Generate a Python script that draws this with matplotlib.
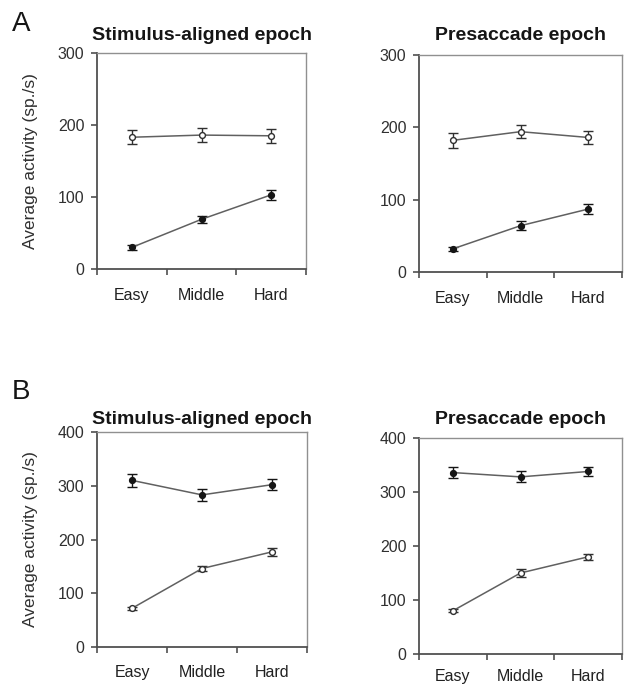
import matplotlib.pyplot as plt
import numpy as np

plt.rcParams['font.family'] = ['Liberation Sans', 'DejaVu Sans']

conditions = ['Easy', 'Middle', 'Hard']

# panel A (0-300)
a_stim_open = [183, 186, 185]
a_stim_open_err = [10, 10, 10]
a_stim_filled = [30, 69, 103]
a_stim_filled_err = [3, 5, 7]

a_pre_open = [182, 194, 186]
a_pre_open_err = [10, 9, 9]
a_pre_filled = [32, 64, 87]
a_pre_filled_err = [3, 6, 7]

# panel B (0-400)
b_stim_open = [72, 146, 177]
b_stim_open_err = [3, 5, 7]
b_stim_filled = [310, 283, 302]
b_stim_filled_err = [12, 11, 10]

b_pre_open = [80, 150, 180]
b_pre_open_err = [3, 7, 5]
b_pre_filled = [336, 328, 338]
b_pre_filled_err = [10, 10, 9]

line_col = '#606060'
axis_col = '#505050'


def draw_panel(ax, open_vals, open_err, filled_vals, filled_err, ymax, title, ylabel, tpad, xpad):
    x = np.arange(len(conditions)) + 0.5
    ax.errorbar(x, open_vals, yerr=open_err, color=line_col, lw=1.1,
                marker='o', ms=4.2, mfc='white', mec='#303030', mew=1.0,
                ecolor='#303030', elinewidth=1.0, capsize=3.5, capthick=1.0)
    ax.errorbar(x, filled_vals, yerr=filled_err, color=line_col, lw=1.1,
                marker='o', ms=4.2, mfc='#151515', mec='#151515',
                ecolor='#151515', elinewidth=1.0, capsize=3.5, capthick=1.0)
    ax.set_xlim(0, 3)
    ax.set_ylim(0, ymax)
    ax.set_yticks(np.arange(0, ymax + 1, 100))
    ax.set_xticks([0, 1, 2, 3])
    ax.set_xticklabels([])
    ax.set_xticks(x, minor=True)
    ax.set_xticklabels(conditions, minor=True)
    ax.tick_params(axis='x', which='minor', length=0, pad=xpad, labelsize=11.5, colors='#202020')
    ax.tick_params(axis='x', which='major', length=4, width=1.2, color=axis_col)
    ax.tick_params(axis='y', length=4, width=1.2, color=axis_col, labelsize=11.5,
                   labelcolor='#303030', pad=5)
    for side in ['left', 'bottom']:
        ax.spines[side].set_color(axis_col)
        ax.spines[side].set_linewidth(1.3)
    for side in ['top', 'right']:
        ax.spines[side].set_color('#909090')
        ax.spines[side].set_linewidth(1.0)
    ax.set_title(title, fontsize=14, fontweight='bold', pad=tpad, color='#151515')
    if ylabel:
        ax.set_ylabel('Average activity (sp./s)', fontsize=12.5, color='#303030', labelpad=14)


fig = plt.figure(figsize=(6.24, 6.87), dpi=100)
W, H = 624, 687


def add_ax(left, top, right, bottom):
    return fig.add_axes([left / W, 1 - bottom / H, (right - left) / W, (bottom - top) / H])


ax1 = add_ax(97, 53, 306, 269)
ax2 = add_ax(419, 55, 622, 272)
ax3 = add_ax(97, 432, 307, 647)
ax4 = add_ax(419, 438, 622, 654)

draw_panel(ax1, a_stim_open, a_stim_open_err, a_stim_filled, a_stim_filled_err,
           300, 'Stimulus-aligned epoch', True, 9.5, 14)
draw_panel(ax2, a_pre_open, a_pre_open_err, a_pre_filled, a_pre_filled_err,
           300, 'Presaccade epoch', False, 10.5, 14)
draw_panel(ax3, b_stim_open, b_stim_open_err, b_stim_filled, b_stim_filled_err,
           400, 'Stimulus-aligned epoch', True, 6, 13)
draw_panel(ax4, b_pre_open, b_pre_open_err, b_pre_filled, b_pre_filled_err,
           400, 'Presaccade epoch', False, 10, 11)

fig.text(12 / W, 1 - 24 / H, 'A', fontsize=20, va='center', ha='left', color='#151515')
fig.text(12 / W, 1 - 392 / H, 'B', fontsize=20, va='center', ha='left', color='#151515')

plt.savefig('out.png', dpi=100)
